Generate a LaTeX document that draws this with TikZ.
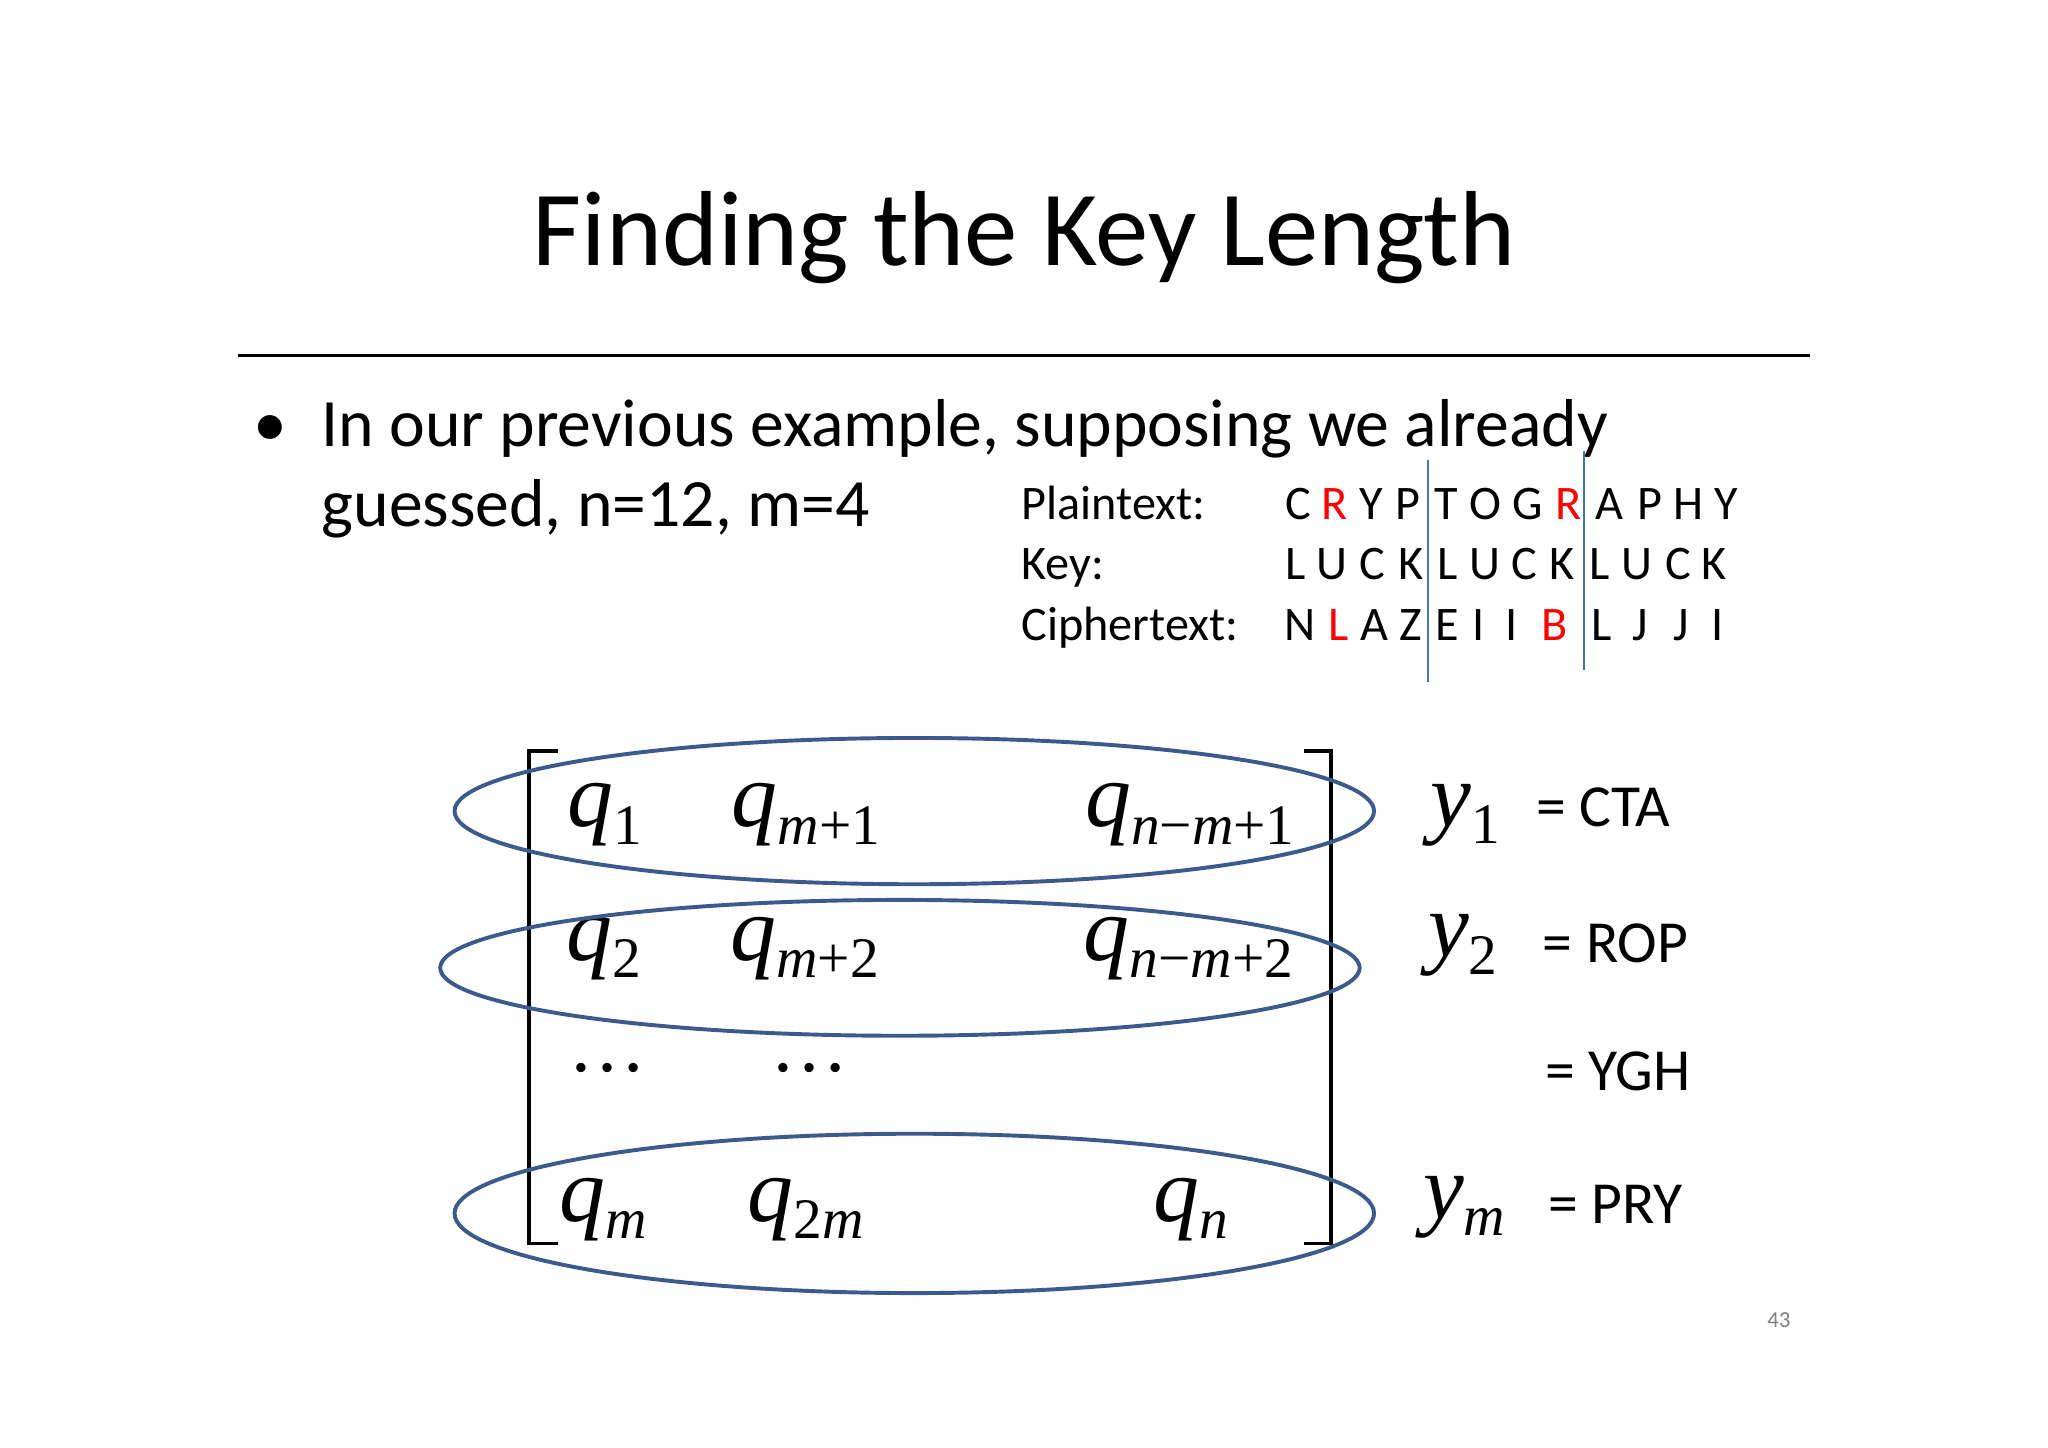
\documentclass[tikz,border=0pt]{standalone}
\usepackage{fontspec}
\setmainfont{Carlito}
\newfontfamily\srf{Liberation Serif}
\newcommand{\qsub}[2]{{\srf\fontsize{40}{40}\selectfont\itshape #1}{\srf\fontsize{25}{25}\selectfont\raisebox{-0.3em}{#2}}}
\begin{document}
\begin{tikzpicture}[x=0.02cm,y=-0.02cm,
  ell/.style={draw={rgb,255:red,60;green,90;blue,140}, line width=0.06cm},
  mq/.style={inner sep=0pt},
  tl/.style={font=\fontsize{21}{21}\selectfont, anchor=base},
  eq/.style={font=\fontsize{26}{26}\selectfont, anchor=base west}]
\useasboundingbox (0,0) rectangle (1568,1108);
\fill[white] (0,0) rectangle (1568,1108);
\node[font=\fontsize{46.5}{46.5}\selectfont, anchor=base] (title) at (784,203) {Finding the Key Length};
\draw[line width=0.04cm] (182,272) -- (1386,272);
\node[font=\fontsize{29.5}{29.5}\selectfont, anchor=base west] (b0) at (188,342) {•};
\node[font=\fontsize{29.5}{29.5}\selectfont, anchor=base west] (b1) at (240,342) {In our previous example, supposing we already};
\node[font=\fontsize{29.5}{29.5}\selectfont, anchor=base west] (b2) at (240,403) {guessed, n=12, m=4};
\node[tl,anchor=base west] (pl) at (776,398) {Plaintext:};
\node[tl,anchor=base west] (kl) at (776,444) {Key:};
\node[tl,anchor=base west] (cl) at (776,490) {Ciphertext:};
\foreach \ch/\x/\c in {C/994/black,R/1022/red,Y/1050/black,P/1078/black,T/1107/black,O/1137/black,G/1170/black,R/1201/red,A/1232/black,P/1263/black,H/1293/black,Y/1322/black}
  \node[tl,text=\c] (p\x) at (\x,398) {\ch};
\foreach \ch/\x in {L/992,U/1020,C/1051,K/1080,L/1108,U/1137,C/1167,K/1196,L/1225,U/1253,C/1285,K/1312}
  \node[tl] (k\x) at (\x,444) {\ch};
\foreach \ch/\x/\c in {N/995/black,L/1025/red,A/1052/black,Z/1080/black,E/1108/black,I/1132/black,I/1157/black,B/1190/red,L/1226/black,J/1256/black,J/1287/black,I/1315/black}
  \node[tl,text=\c] (c\x) at (\x,490) {\ch};
\draw[color={rgb,255:red,70;green,120;blue,170}, line width=0.03cm] (1093,352) -- (1093,522);
\draw[color={rgb,255:red,70;green,120;blue,170}, line width=0.03cm] (1213,345) -- (1213,513);
\draw[line width=0.05cm] (427,575) -- (405,575) -- (405,952) -- (427,952);
\draw[line width=0.05cm] (998,575) -- (1019,575) -- (1019,952) -- (998,952);
\node[mq] (a1) at (463,624) {\qsub{q}{1}};
\node[mq] (a2) at (617,624) {\qsub{q}{\textit{m}+1}};
\node[mq] (a3) at (911,624) {\qsub{q}{\textit{n}−\textit{m}+1}};
\node[mq] (b1m) at (462,726) {\qsub{q}{2}};
\node[mq] (b2m) at (616,726) {\qsub{q}{\textit{m}+2}};
\node[mq] (b3m) at (910,726) {\qsub{q}{\textit{n}−\textit{m}+2}};
\node[mq,font=\srf\fontsize{34}{34}\selectfont] (d1) at (465,818) {…};
\node[mq,font=\srf\fontsize{34}{34}\selectfont] (d2) at (620,818) {…};
\node[mq] (c1m) at (462,926) {\qsub{q}{\textit{m}}};
\node[mq] (c2m) at (617,926) {\qsub{q}{2\textit{m}}};
\node[mq] (c3m) at (912,926) {\qsub{q}{\textit{n}}};
\draw[ell] (700,621) ellipse [x radius=352, y radius=56];
\draw[ell] (689,741) ellipse [x radius=352, y radius=52];
\draw[ell] (700,929) ellipse [x radius=352, y radius=61];
\node[mq] (y1) at (1122,624) {\qsub{y}{1}};
\node[mq] (y2) at (1120,724) {\qsub{y}{2}};
\node[mq] (ym) at (1121,924) {\qsub{y}{\textit{m}}};
\node[eq] (e1) at (1170,633) {= CTA};
\node[eq] (e2) at (1175,737) {= ROP};
\node[eq] (e3) at (1177,835) {= YGH};
\node[eq] (e4) at (1179,937) {= PRY};
\node[font=\fontsize{10}{10}\selectfont, text=gray] (pg) at (1362,1011) {43};
\end{tikzpicture}
\end{document}
